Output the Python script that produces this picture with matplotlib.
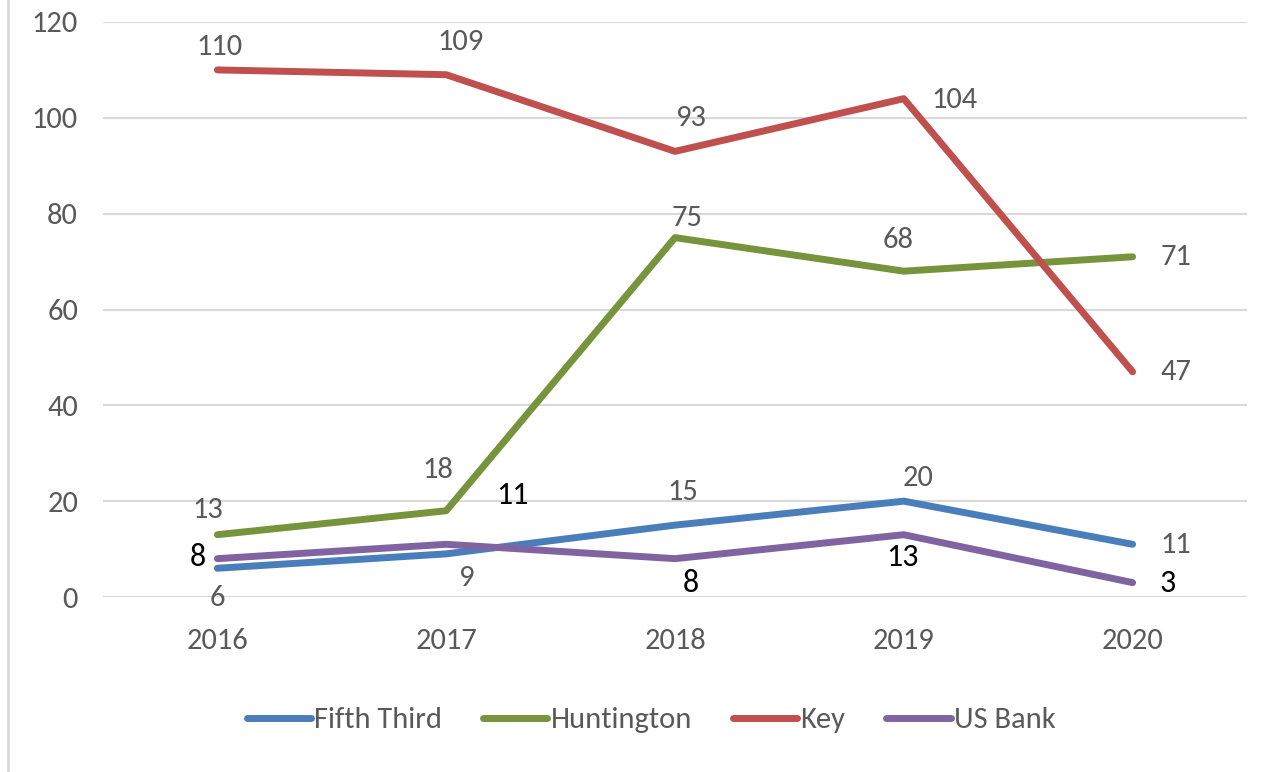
import matplotlib
matplotlib.use("Agg")
import matplotlib.pyplot as plt
from matplotlib.lines import Line2D

years = ["2016", "2017", "2018", "2019", "2020"]
fifth_third = [6, 9, 15, 20, 11]
huntington = [13, 18, 75, 68, 71]
key = [110, 109, 93, 104, 47]
us_bank = [8, 11, 8, 13, 3]

names = ["Fifth Third", "Huntington", "Key", "US Bank"]
colors = ["#4A7EBB", "#77933C", "#C0504D", "#8064A2"]

# label offsets in pixels (dx, dy) per series
offsets = {
    "Fifth Third": [(0, -30), (20, -24), (8, 33), (14, 23), (43, -1)],
    "Huntington": [(-10, 25), (-8, 41), (12, 20), (-6, 31), (43, 0)],
    "Key": [(2, 23), (14, 33), (15, 33), (51, -1), (43, 0)],
    "US Bank": [(-20, 2), (66, 49), (16, -24), (-1, -22), (35, 0)],
}

plt.rcParams['font.family'] = ['Carlito', 'DejaVu Sans']

W, H = 1270, 772
fig = plt.figure(figsize=(W / 100, H / 100), dpi=100)
ax = fig.add_axes([103 / W, 1 - 597 / H, (1247 - 103) / W, (597 - 22) / H])

FS = 22
LW = 5
x = list(range(len(years)))
series = [fifth_third, huntington, key, us_bank]
for name, vals, c in zip(names, series, colors):
    ax.plot(x, vals, color=c, lw=LW, solid_capstyle='round', solid_joinstyle='round', label=name, zorder=3)
    for i, v in enumerate(vals):
        dx, dy = offsets[name][i]
        black = name == "US Bank"
        ax.annotate(str(v), (i, v), xytext=(dx, dy), textcoords='offset pixels',
                    ha='center', va='center', fontsize=FS + 1 if black else FS,
                    color='black' if black else '#595959', zorder=4)

ax.set_xlim(-0.5, 4.5)
ax.set_ylim(0, 120)
ax.set_yticks(range(0, 121, 20))
ax.set_xticks(x)
ax.set_xticklabels(years)
ax.grid(axis='y', color='#D9D9D9', lw=1.5)
ax.set_axisbelow(True)
for s in ax.spines.values():
    s.set_visible(False)
ax.tick_params(axis='both', length=0, labelsize=FS, labelcolor='#595959')
ax.tick_params(axis='y', pad=18)
ax.tick_params(axis='x', pad=22)

handles = [Line2D([0], [0], color=c, lw=LW, solid_capstyle='round') for c in colors]
fig.legend(handles, names, loc='center', bbox_to_anchor=(651 / W, 1 - 720 / H), ncol=4,
           frameon=False, fontsize=FS, labelcolor='#595959', handlelength=2.1,
           handletextpad=0.1, columnspacing=1.35)

fig.add_artist(Line2D([8 / W, 8 / W], [0, 1], color='#D9D9D9', lw=2, transform=fig.transFigure))

fig.savefig("out.png", dpi=100)
